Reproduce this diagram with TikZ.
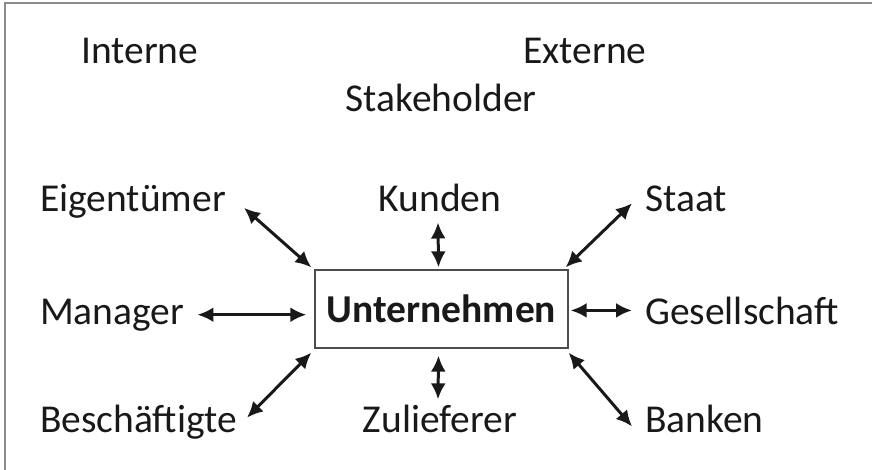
\documentclass[tikz,border=0pt]{standalone}
\usepackage{fontspec}
\setmainfont{Carlito}
\usetikzlibrary{arrows.meta,calc}

\begin{document}
\begin{tikzpicture}[x=1pt,y=-1pt,
		lbl/.style={inner sep=0pt,text=black!90,font=\fontsize{39.5}{47}\selectfont},
		pfeil/.style={{Latex[length=16pt,width=15pt]}-{Latex[length=16pt,width=15pt]},line width=3pt,black!90}]
		\useasboundingbox (0,0) rectangle (872,470);
		\draw[black!45,line width=2pt] (5,470)--(5,3)--(872,3);
		% Ueberschriften
		\node[lbl,anchor=base west] (int) at (81,64) {Interne};
		\node[lbl,anchor=base west] (ext) at (523,64) {Externe};
		\node[lbl,anchor=base] (sth) at (441,112) {Stakeholder};
		% Unternehmen
		\node[draw=black!70,line width=1.3pt,minimum width=253pt,minimum height=78pt,
			font=\fontsize{39.5}{47}\selectfont\bfseries,text=black!90] (unt) at (441.5,309) {Unternehmen};
		% Stakeholder
		\node[lbl,anchor=base west] (eig) at (40,212) {Eigentümer};
		\node[lbl,anchor=base] (kun) at (440,212) {Kunden};
		\node[lbl,anchor=base west] (sta) at (645,212) {Staat};
		\node[lbl,anchor=base west] (man) at (40,324) {Manager};
		\node[lbl,anchor=base west] (ges) at (645,324) {Gesellschaft};
		\node[lbl,anchor=base west] (bes) at (40,432) {Beschäftigte};
		\node[lbl,anchor=base] (zul) at (440,432) {Zulieferer};
		\node[lbl,anchor=base west] (ban) at (645,432) {Banken};
		% Pfeile
		\draw[pfeil] ($(eig.east)+(18,6)$) -- ($(unt.north west)+(-3,-2)$);
		\draw[pfeil] ($(kun.south)+(-2,10)$) -- ($(unt.north)+(-3,-2)$);
		\draw[pfeil] ($(sta.west)+(-13,4)$) -- ($(unt.north east)+(-3,-2)$);
		\draw[pfeil] ($(man.east)+(13,0)$) -- ($(man.east -| unt.west)+(-8,0)$);
		\draw[pfeil] ($(ges.west -| unt.east)+(2,0)$) -- ($(ges.west)+(-13,0)$);
		\draw[pfeil] ($(bes.east)+(10,-4)$) -- ($(unt.south west)+(-3,4)$);
		\draw[pfeil] ($(unt.south)+(-3,7)$) -- ($(zul.north)+(-2,-5)$);
		\draw[pfeil] ($(ban.west)+(-13,8)$) -- ($(unt.south east)+(0,4)$);
	\end{tikzpicture}
\end{document}
